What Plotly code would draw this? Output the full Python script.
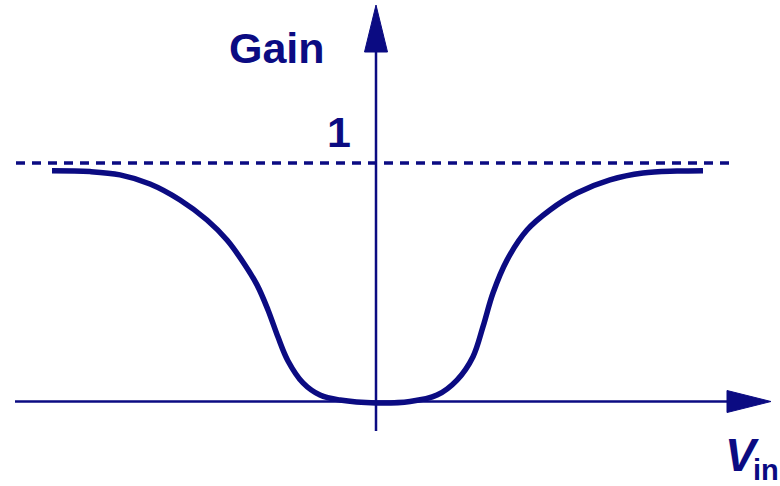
import plotly.graph_objects as go

# ---- data (arbitrary Vin units, gain normalised to 1) ----
vin_left = [-3.24, -2.86, -2.56, -2.26, -1.96, -1.69, -1.49, -1.33, -1.19, -1.08, -0.98, -0.88, -0.73, -0.56, -0.36, 0.0]
gain_left = [0.968, 0.964, 0.950, 0.912, 0.845, 0.761, 0.677, 0.585, 0.489, 0.384, 0.270, 0.170, 0.078, 0.027, 0.006, -0.006]
vin_right = [0.34, 0.61, 0.81, 0.97, 1.07, 1.17, 1.31, 1.51, 1.74, 2.01, 2.34, 2.67, 3.01, 3.27]
gain_right = [0.0, 0.027, 0.090, 0.188, 0.314, 0.455, 0.593, 0.719, 0.803, 0.874, 0.929, 0.958, 0.966, 0.968]
unity_gain = 1.0
labels = {"gain": "Gain", "one": "1", "v": "V", "sub": "in"}

vin = vin_left + vin_right
gain = gain_left + gain_right

W, H = 780, 486
X0, Y0 = 376, 401.5      # pixel of the origin
SX, SY = 100.0, 238.5    # pixels per unit
xr = [(0 - X0) / SX, (W - X0) / SX]
yr = [(Y0 - H) / SY, (Y0 - 0) / SY]

def dx(px):
    return (px - X0) / SX

def dy(py):
    return (Y0 - py) / SY

C = "#0b0b82"

fig = go.Figure()

# dashed unity line
fig.add_trace(go.Scatter(x=[dx(16), dx(729)], y=[unity_gain, unity_gain], mode="lines",
                         line=dict(color=C, width=3.5, dash="9px,7px"), hoverinfo="skip"))
# axes lines
fig.add_trace(go.Scatter(x=[dx(15), dx(730)], y=[0, 0], mode="lines",
                         line=dict(color=C, width=2.5), hoverinfo="skip"))
fig.add_trace(go.Scatter(x=[0, 0], y=[dy(431), dy(50)], mode="lines",
                         line=dict(color=C, width=2.5), hoverinfo="skip"))
# gain curve
fig.add_trace(go.Scatter(x=vin, y=gain, mode="lines",
                         line=dict(color=C, width=5.5, shape="spline", smoothing=1.0),
                         hoverinfo="skip"))

# arrowheads
def tri(p):
    return "M " + " L ".join(f"{dx(a)},{dy(b)}" for a, b in p) + " Z"

fig.add_shape(type="path", path=tri([(727, 390.5), (771, 401.5), (727, 412.5)]),
              fillcolor=C, line=dict(color=C, width=1))
fig.add_shape(type="path", path=tri([(364.5, 52), (376, 5), (387.5, 52)]),
              fillcolor=C, line=dict(color=C, width=1))

font = "Arial, Liberation Sans, sans-serif"
fig.add_annotation(x=dx(276.5), y=dy(48), text="<b>" + labels["gain"] + "</b>", showarrow=False,
                   font=dict(family=font, size=43, color=C), xanchor="center", yanchor="middle")
fig.add_annotation(x=dx(339), y=dy(132), text="<b>" + labels["one"] + "</b>", showarrow=False,
                   font=dict(family=font, size=43, color=C), xanchor="center", yanchor="middle")
fig.add_annotation(x=dx(742), y=dy(455), text="<b><i>" + labels["v"] + "</i></b>", showarrow=False,
                   font=dict(family=font, size=46, color=C), xanchor="center", yanchor="middle")
fig.add_annotation(x=dx(751), y=dy(470), text="<b>" + labels["sub"] + "</b>", showarrow=False,
                   font=dict(family=font, size=29, color=C), xanchor="left", yanchor="middle")

fig.update_layout(width=W, height=H, margin=dict(l=0, r=0, t=0, b=0),
                  paper_bgcolor="white", plot_bgcolor="white", showlegend=False,
                  xaxis=dict(range=xr, visible=False, fixedrange=True),
                  yaxis=dict(range=yr, visible=False, fixedrange=True))

fig.write_html("out.html", config={"displayModeBar": False},
               post_script="document.body.style.margin='0';document.body.style.overflow='hidden';")
